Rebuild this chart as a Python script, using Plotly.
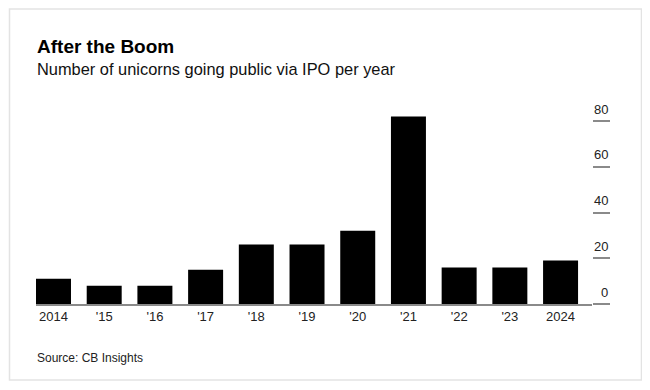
import plotly.graph_objects as go

# ---- data ----
years = ["2014", "'15", "'16", "'17", "'18", "'19", "'20", "'21", "'22", "'23", "2024"]
ipos = [11, 8, 8, 15, 26, 26, 32, 82, 16, 16, 19]
y_ticks = [0, 20, 40, 60, 80]
y_tick_labels = ["0", "20", "40", "60", "80"]

title = "After the Boom"
subtitle = "Number of unicorns going public via IPO per year"
source = "Source: CB Insights"

# ---- layout geometry (pixels, in the page; the page body adds an 8px offset) ----
OFF = 8
W, H = 650 - 2 * OFF, 390 - 2 * OFF
L = 36 - OFF
R = W - (592 - OFF)
T = 112 - OFF
B = H - (304 - OFF)
PW, PH = W - L - R, H - T - B
FONT = "Liberation Sans, Arial, Helvetica, sans-serif"
AXIS_GRAY = "#8a8a8a"


def px2x(px):
    return (px - OFF - L) / PW


def py2y(py):
    return (H - B - (py - OFF)) / PH


fig = go.Figure(
    go.Bar(
        x=years,
        y=ipos,
        marker=dict(color="#000000", line=dict(width=0)),
        hoverinfo="x+y",
    )
)

annotations = [
    dict(text="<b>" + title + "</b>", x=px2x(35), y=py2y(46.5), xref="paper", yref="paper",
         xanchor="left", yanchor="middle", showarrow=False,
         font=dict(family=FONT, size=19, color="#000000")),
    dict(text=subtitle, x=px2x(35), y=py2y(69.5), xref="paper", yref="paper",
         xanchor="left", yanchor="middle", showarrow=False,
         font=dict(family=FONT, size=16.4, color="#111111")),
    dict(text=source, x=px2x(35), y=py2y(357.5), xref="paper", yref="paper",
         xanchor="left", yanchor="middle", showarrow=False,
         font=dict(family=FONT, size=12, color="#222222")),
]
for v, lab in zip(y_ticks, y_tick_labels):
    annotations.append(
        dict(text=lab, x=px2x(609.5), y=v, xref="paper", yref="y",
             xanchor="right", yanchor="middle", yshift=12, showarrow=False,
             font=dict(family=FONT, size=13, color="#222222"))
    )

fig.update_layout(
    width=W,
    height=H,
    margin=dict(l=L, r=R, t=T, b=B, pad=0),
    paper_bgcolor="#ffffff",
    plot_bgcolor="#ffffff",
    showlegend=False,
    bargap=0.31,
    font=dict(family=FONT, size=13, color="#222222"),
    xaxis=dict(
        type="category",
        range=[-0.345, 10.62],
        showgrid=False,
        zeroline=False,
        showline=True,
        linecolor=AXIS_GRAY,
        linewidth=1.5,
        ticks="",
        tickfont=dict(family=FONT, size=13, color="#222222"),
        fixedrange=True,
    ),
    yaxis=dict(
        range=[0, 84],
        side="right",
        tickvals=y_ticks,
        showticklabels=False,
        ticks="outside",
        ticklen=17,
        tickwidth=1.5,
        tickcolor=AXIS_GRAY,
        showgrid=False,
        zeroline=False,
        showline=False,
        fixedrange=True,
    ),
    annotations=annotations,
    shapes=[
        dict(type="rect", xref="paper", yref="paper",
             x0=px2x(9.5), x1=px2x(641.5), y0=py2y(380), y1=py2y(9),
             line=dict(color="#e3e3e3", width=1.5), fillcolor="rgba(0,0,0,0)", layer="below"),
    ],
)

fig.write_html("out.html")
